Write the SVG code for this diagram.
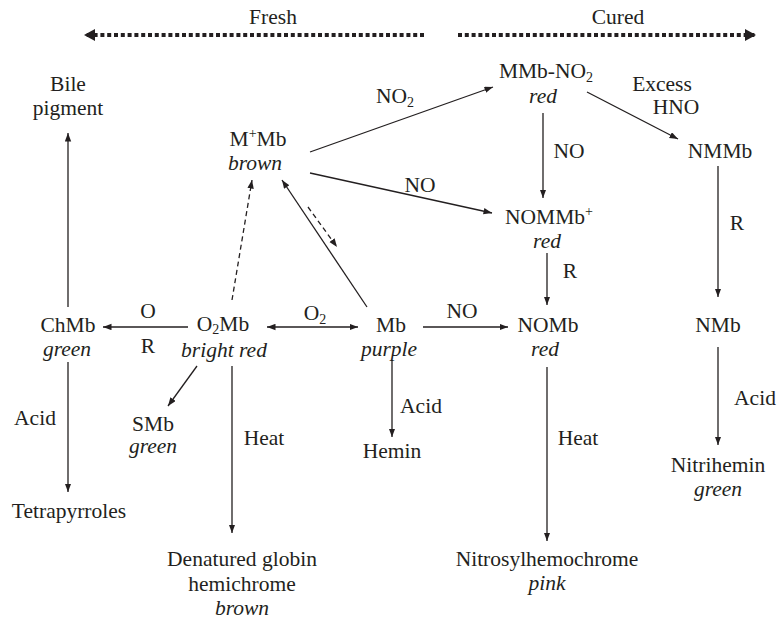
<svg xmlns="http://www.w3.org/2000/svg" width="777" height="620" viewBox="0 0 777 620">
  <style>
    text { font-family: "Liberation Serif", "Times New Roman", serif; font-size: 21.5px; fill: #231f20; text-anchor: middle; }
    .it { font-style: italic; }
    .sub { font-size: 14px; }
    .ln { stroke: #231f20; stroke-width: 1.3; fill: none; }
    .dash { stroke-dasharray: 5 3.5; }
    .dots { stroke: #231f20; stroke-width: 4; stroke-dasharray: 4 2.8; fill: none; }
  </style>
  <defs>
    <marker id="ah" markerUnits="userSpaceOnUse" markerWidth="9" markerHeight="7" refX="8.5" refY="3.2" orient="auto">
      <path d="M0,0 L8.5,3.2 L0,6.4 Z" fill="#231f20"/>
    </marker>
    <marker id="ahs" markerUnits="userSpaceOnUse" markerWidth="9" markerHeight="7" refX="0" refY="3.2" orient="auto">
      <path d="M8.5,0 L0,3.2 L8.5,6.4 Z" fill="#231f20"/>
    </marker>
    <marker id="big" markerUnits="userSpaceOnUse" markerWidth="12" markerHeight="12" refX="11" refY="6" orient="auto">
      <path d="M0,0 L11,6 L0,12 Z" fill="#231f20"/>
    </marker>
  </defs>

  <!-- Fresh / Cured direction bar -->
  <g id="header">
    <text x="273" y="24">Fresh</text>
    <text x="618" y="24">Cured</text>
    <line class="dots" x1="424" y1="35" x2="84" y2="35" marker-end="url(#big)"/>
    <line class="dots" x1="458" y1="35" x2="756" y2="35" marker-end="url(#big)"/>
  </g>

  <!-- Connectors -->
  <g id="connectors">
    <line class="ln" x1="68" y1="307" x2="68" y2="133" marker-end="url(#ah)"/>
    <line class="ln" x1="68" y1="362" x2="68" y2="492" marker-end="url(#ah)"/>
    <line class="ln" x1="188" y1="327" x2="103" y2="327" marker-end="url(#ah)"/>
    <line class="ln" x1="267" y1="327" x2="358" y2="327" marker-start="url(#ahs)" marker-end="url(#ah)"/>
    <line class="ln" x1="423" y1="327" x2="508" y2="327" marker-end="url(#ah)"/>
    <line class="ln" x1="197" y1="366" x2="168" y2="406" marker-end="url(#ah)"/>
    <line class="ln" x1="232" y1="366" x2="232" y2="533" marker-end="url(#ah)"/>
    <line class="ln" x1="392" y1="360" x2="392" y2="437" marker-end="url(#ah)"/>
    <line class="ln" x1="547" y1="367" x2="547" y2="541" marker-end="url(#ah)"/>
    <line class="ln dash" x1="232" y1="300" x2="252" y2="180" marker-end="url(#ah)"/>
    <line class="ln" x1="367" y1="307" x2="282" y2="180" marker-end="url(#ah)"/>
    <line class="ln dash" x1="308" y1="207" x2="337" y2="247" marker-end="url(#ah)"/>
    <line class="ln" x1="310" y1="152" x2="493" y2="87" marker-end="url(#ah)"/>
    <line class="ln" x1="310" y1="173" x2="492" y2="213" marker-end="url(#ah)"/>
    <line class="ln" x1="543" y1="113" x2="543" y2="198" marker-end="url(#ah)"/>
    <line class="ln" x1="587" y1="92" x2="678" y2="139" marker-end="url(#ah)"/>
    <line class="ln" x1="547" y1="253" x2="547" y2="305" marker-end="url(#ah)"/>
    <line class="ln" x1="718" y1="166" x2="718" y2="297" marker-end="url(#ah)"/>
    <line class="ln" x1="718" y1="347" x2="718" y2="445" marker-end="url(#ah)"/>
  </g>

  <!-- Connector labels -->
  <g id="labels">
    <text x="148" y="318">O</text>
    <text x="148" y="353">R</text>
    <text x="315" y="320">O<tspan class="sub" dy="4">2</tspan></text>
    <text x="462" y="318">NO</text>
    <text x="395" y="103">NO<tspan class="sub" dy="4">2</tspan></text>
    <text x="420" y="192">NO</text>
    <text x="569" y="158">NO</text>
    <text x="662" y="91">Excess</text>
    <text x="676" y="114">HNO</text>
    <text x="737" y="230">R</text>
    <text x="570" y="278">R</text>
    <text x="35" y="425">Acid</text>
    <text x="264" y="445">Heat</text>
    <text x="421" y="413">Acid</text>
    <text x="578" y="445">Heat</text>
    <text x="755" y="405">Acid</text>
  </g>

  <!-- Nodes -->
  <g id="bile"><text x="68" y="91">Bile</text><text x="68" y="115">pigment</text></g>
  <g id="chmb"><text x="68" y="332">ChMb</text><text class="it" x="67" y="356">green</text></g>
  <g id="tetrapyrroles"><text x="69" y="518">Tetrapyrroles</text></g>
  <g id="o2mb"><text x="223" y="331">O<tspan class="sub" dy="3">2</tspan><tspan dy="-3">Mb</tspan></text><text class="it" x="224" y="357">bright red</text></g>
  <g id="smb"><text x="153" y="431">SMb</text><text class="it" x="153" y="453">green</text></g>
  <g id="denatured"><text x="242" y="566">Denatured globin</text><text x="242" y="591">hemichrome</text><text class="it" x="242" y="615">brown</text></g>
  <g id="mmb-plus"><text x="258" y="146">M<tspan class="sub" dy="-8">+</tspan><tspan dy="8">Mb</tspan></text><text class="it" x="255" y="170">brown</text></g>
  <g id="mb"><text x="391" y="332">Mb</text><text class="it" x="389" y="356">purple</text></g>
  <g id="hemin"><text x="392" y="458">Hemin</text></g>
  <g id="mmb-no2"><text x="546" y="78">MMb-NO<tspan class="sub" dy="4">2</tspan></text><text class="it" x="543" y="103">red</text></g>
  <g id="nommb-plus"><text x="549" y="224">NOMMb<tspan class="sub" dy="-8">+</tspan></text><text class="it" x="547" y="248">red</text></g>
  <g id="nomb"><text x="548" y="332">NOMb</text><text class="it" x="545" y="356">red</text></g>
  <g id="nitrosylhemochrome"><text x="547" y="566">Nitrosylhemochrome</text><text class="it" x="547" y="590">pink</text></g>
  <g id="nmmb"><text x="720" y="158">NMMb</text></g>
  <g id="nmb"><text x="718" y="332">NMb</text></g>
  <g id="nitrihemin"><text x="718" y="472">Nitrihemin</text><text class="it" x="718" y="496">green</text></g>
</svg>
